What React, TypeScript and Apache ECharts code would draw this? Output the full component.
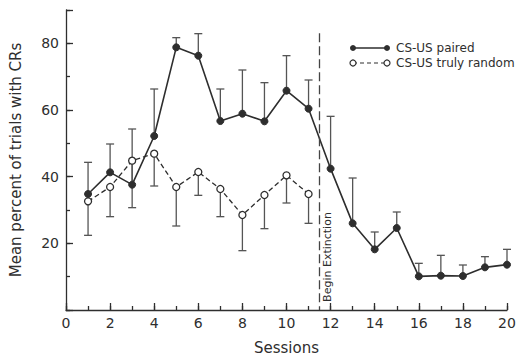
import React, { useEffect, useRef } from "react";
import * as echarts from "echarts";

const sessions = [1, 2, 3, 4, 5, 6, 7, 8, 9, 10, 11, 12, 13, 14, 15, 16, 17, 18, 19, 20];
const paired = [34.8, 41.3, 37.6, 52.2, 78.8, 76.3, 56.7, 58.9, 56.6, 65.8, 60.4, 42.4, 26.0, 18.2, 24.6, 10.1, 10.3, 10.2, 12.8, 13.6];
const pairedUpper = [44.3, 49.8, 54.3, 66.3, 81.7, 82.9, 66.3, 72.0, 68.2, 76.3, 69.0, 58.1, 39.6, 23.4, 29.4, 14.0, 16.4, 13.5, 16.0, 18.2];
const randomSessions = [1, 2, 3, 4, 5, 6, 7, 8, 9, 10, 11];
const random = [32.6, 36.9, 44.8, 46.9, 36.9, 41.4, 36.3, 28.5, 34.5, 40.4, 34.8];
const randomLower = [22.4, 28.0, 30.7, 37.2, 25.2, 34.4, 28.0, 17.8, 24.4, 32.1, 26.0];
const extinctionAt = 11.5;
const extinctionTop = 83;
const legendNames = ["CS-US paired", "CS-US truly random"];
const xTicks = [0, 2, 4, 6, 8, 10, 12, 14, 16, 18, 20];
const yTicks = [20, 40, 60, 80];

const INK = "#2e2e2e";
const FONT = "DejaVu Sans";

function errRender(params: any, api: any) {
  const x = api.value(0);
  const a = api.coord([x, api.value(1)]);
  const b = api.coord([x, api.value(2)]);
  const w = 4;
  return {
    type: "group",
    children: [
      { type: "line", shape: { x1: a[0], y1: a[1], x2: b[0], y2: b[1] }, style: { stroke: "#555", lineWidth: 1.3 } },
      { type: "line", shape: { x1: b[0] - w, y1: b[1], x2: b[0] + w, y2: b[1] }, style: { stroke: "#555", lineWidth: 1.3 } },
    ],
  };
}

export default function App() {
  const ref = useRef<HTMLDivElement>(null);
  useEffect(() => {
    if (!ref.current) return;
    const chart = echarts.init(ref.current, null, { renderer: "svg" });
    const axisText = { color: INK, fontFamily: FONT, fontSize: 14 };
    chart.setOption({
      animation: false,
      backgroundColor: "#fff",
      textStyle: { fontFamily: FONT, color: INK },
      grid: { left: 60, right: 15, top: 10, bottom: 47 },
      xAxis: [
        {
          type: "value",
          min: 0,
          max: 20,
          interval: 2,
          name: "Sessions",
          nameLocation: "middle",
          nameGap: 30,
          nameTextStyle: { color: INK, fontFamily: FONT, fontSize: 15 },
          axisLine: { show: true, lineStyle: { color: INK, width: 1.3 } },
          axisTick: { show: true, inside: true, length: 7, lineStyle: { color: INK, width: 1.3 } },
          axisLabel: { ...axisText, margin: 6, formatter: (v: number) => (xTicks.includes(v) ? String(v) : "") },
          splitLine: { show: false },
        },
        {
          type: "value",
          min: 0,
          max: 20,
          interval: 1,
          position: "bottom",
          axisLine: { show: false },
          axisTick: { show: true, inside: true, length: 4, lineStyle: { color: INK, width: 1.3 } },
          axisLabel: { show: false },
          splitLine: { show: false },
        },
      ],
      yAxis: [
        {
          type: "value",
          min: 0,
          max: 90,
          interval: 20,
          name: "Mean percent of trials with CRs",
          nameLocation: "middle",
          nameGap: 43,
          nameTextStyle: { color: INK, fontFamily: FONT, fontSize: 15 },
          axisLine: { show: true, lineStyle: { color: INK, width: 1.3 } },
          axisTick: { show: true, inside: true, length: 7, lineStyle: { color: INK, width: 1.3 } },
          axisLabel: { ...axisText, margin: 7, formatter: (v: number) => (yTicks.includes(v) ? String(v) : "") },
          splitLine: { show: false },
        },
        {
          type: "value",
          min: 0,
          max: 90,
          interval: 10,
          position: "left",
          axisLine: { show: false },
          axisTick: { show: true, inside: true, length: 4, lineStyle: { color: INK, width: 1.3 } },
          axisLabel: { show: false },
          splitLine: { show: false },
        },
      ],
      series: [
        {
          type: "custom",
          name: "paired error",
          renderItem: errRender,
          data: sessions.map((s, i) => [s, paired[i], pairedUpper[i]]),
          encode: { x: 0, y: [1, 2] },
          silent: true,
          z: 1,
        },
        {
          type: "custom",
          name: "random error",
          renderItem: errRender,
          data: randomSessions.map((s, i) => [s, random[i], randomLower[i]]),
          encode: { x: 0, y: [1, 2] },
          silent: true,
          z: 1,
        },
        {
          type: "line",
          name: legendNames[1],
          data: randomSessions.map((s, i) => [s, random[i]]),
          symbol: "circle",
          symbolSize: 7,
          lineStyle: { color: INK, width: 1.3, type: [5, 3] },
          itemStyle: { color: "#fff", borderColor: INK, borderWidth: 1.3 },
          z: 3,
        },
        {
          type: "line",
          name: legendNames[0],
          data: sessions.map((s, i) => [s, paired[i]]),
          symbol: "circle",
          symbolSize: 7,
          lineStyle: { color: INK, width: 1.6 },
          itemStyle: { color: INK, borderColor: INK, borderWidth: 1 },
          z: 4,
          markLine: {
            silent: true,
            symbol: "none",
            label: { show: false },
            lineStyle: { color: "#444", width: 1.3, type: [9, 4] },
            data: [[{ coord: [extinctionAt, extinctionTop] }, { coord: [extinctionAt, 0] }]],
          },
        },
      ],
      graphic: [
        {
          type: "text",
          x: 327,
          y: 257,
          rotation: Math.PI / 2,
          style: { text: "Begin Extinction", fill: INK, font: `11px "${FONT}"`, align: "center", verticalAlign: "middle" },
        },
        { type: "line", shape: { x1: 353, y1: 48, x2: 387, y2: 48 }, style: { stroke: INK, lineWidth: 1.6 } },
        { type: "circle", shape: { cx: 353, cy: 48, r: 3 }, style: { fill: INK } },
        { type: "circle", shape: { cx: 387, cy: 48, r: 3 }, style: { fill: INK } },
        { type: "line", shape: { x1: 353, y1: 63, x2: 387, y2: 63 }, style: { stroke: INK, lineWidth: 1.2, lineDash: [4, 3] } },
        { type: "circle", shape: { cx: 353, cy: 63, r: 3 }, style: { fill: "#fff", stroke: INK, lineWidth: 1.2 } },
        { type: "circle", shape: { cx: 387, cy: 63, r: 3 }, style: { fill: "#fff", stroke: INK, lineWidth: 1.2 } },
        {
          type: "text",
          x: 396,
          y: 48,
          style: { text: legendNames[0], fill: INK, font: `12px "${FONT}"`, verticalAlign: "middle" },
        },
        {
          type: "text",
          x: 396,
          y: 63,
          style: { text: legendNames[1], fill: INK, font: `12px "${FONT}"`, verticalAlign: "middle" },
        },
      ],
    });
    return () => chart.dispose();
  }, []);
  return <div ref={ref} style={{ width: 522, height: 360, position: "absolute", left: 0, top: 0 }} />;
}
